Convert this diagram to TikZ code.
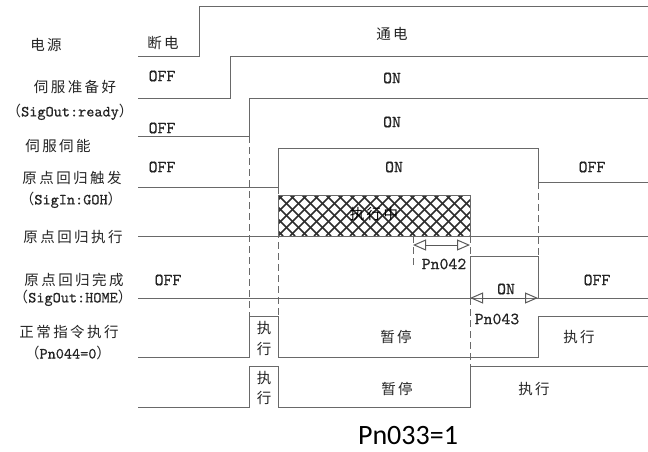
\documentclass[tikz,border=0pt]{standalone}
\usepackage{fontspec}
\newfontfamily\cjkfont[LetterSpace=17]{Noto Sans CJK SC}
\newfontfamily\calfont{Carlito}
\newfontfamily\ttx[FakeBold=0.5]{lmmono10-regular.otf}
\usetikzlibrary{arrows.meta}
\definecolor{ln}{RGB}{105,105,105}
\definecolor{tx}{RGB}{35,35,35}
\definecolor{hc}{RGB}{45,45,45}
\newcommand{\lpar}{{\cjkfont （}}
\newcommand{\rpar}{{\cjkfont ）}}
\newcommand{\asc}[1]{{\ttx\fontsize{15.5}{17}\selectfont #1}}
\begin{document}
\begin{tikzpicture}[x=1pt,y=-1pt,
  sig/.style={draw=ln, line width=1pt},
  dsh/.style={draw=ln, line width=0.9pt, dash pattern=on 7pt off 4pt},
  lab/.style={text=tx, font=\cjkfont\fontsize{14.5}{16}\selectfont, inner sep=0pt},
  lvl/.style={text=tx, font=\ttx\fontsize{17}{19}\selectfont, inner sep=0pt},
  hatchln/.style={draw=hc, line width=1.5pt},
  dimarrow/.style={draw=ln!85!black, line width=1pt,
    {Triangle[open,length=13pt,width=11pt]}-{Triangle[open,length=13pt,width=11pt]}},
]
\useasboundingbox (0,0) rectangle (648,452);

% ---------- hatched block ----------
\begin{scope}
  \clip (278,195) rectangle (470,236);
  \foreach \c in {230,242,...,470} {
    \draw[hatchln] (\c,195) -- ++(41,41);
    \draw[hatchln] (\c,236) -- ++(41,-41);
  }
\end{scope}
\draw[sig] (278,195) rectangle (470,236);
\node[lab, text=black] (hatchtxt) at (374,214) {执行中};

% ---------- signals ----------
\draw[sig] (138,57) -- (199,57) -- (199,7) -- (648,7);
\draw[sig] (138,98) -- (230,98) -- (230,57) -- (648,57);
\draw[sig] (138,136) -- (249,136) -- (249,98) -- (648,98);
\draw[sig] (138,187) -- (278,187) -- (278,148) -- (538,148) -- (538,182) -- (648,182);
\draw[sig] (138,236) -- (648,236);
\draw[sig] (138,298) -- (648,298);
\draw[sig] (470,298) -- (470,256) -- (538,256) -- (538,298);
\draw[sig] (138,357) -- (249,357) -- (249,316) -- (278,316) -- (278,357) -- (538,357) -- (538,316) -- (648,316);
\draw[sig] (138,407) -- (249,407) -- (249,366) -- (278,366) -- (278,407) -- (470,407) -- (470,366) -- (648,366);

% ---------- dashed guides ----------
\draw[dsh] (249,136) -- (249,316);
\draw[dsh] (278,187) -- (278,316);
\draw[dsh] (413,236) -- (413,268);
\draw[dsh] (470,236) -- (470,256);
\draw[dsh] (470,298) -- (470,366);
\draw[dsh] (538,182) -- (538,256);

% ---------- dimension arrows ----------
\coordinate (a1) at (413,245);
\coordinate (a2) at (470,245);
\draw[dimarrow] (a1) -- (a2);
\coordinate (b1) at (470,298);
\coordinate (b2) at (538,298);
\draw[dimarrow] (b1) -- (b2);
\node[lvl] (pn042) at (444,264) {Pn042};
\node[lvl] (on6) at (506,289) {ON};
\node[lvl] (pn043) at (497,319) {Pn043};

% ---------- left labels ----------
\node[lab] (l1) at (46,45) {电源};
\node[lab] (l2) at (75,87) {伺服准备好};
\node[lab] (l2b) at (70,112) {\lpar\asc{SigOut:ready}\rpar};
\node[lab] (l3) at (58,146) {伺服伺能};
\node[lab] (l4) at (72,178) {原点回归触发};
\node[lab] (l4b) at (71,200) {\lpar\asc{SigIn:GOH}\rpar};
\node[lab] (l5) at (73,237) {原点回归执行};
\node[lab] (l6) at (74,280) {原点回归完成};
\node[lab] (l6b) at (73,298) {\lpar\asc{SigOut:HOME}\rpar};
\node[lab] (l7) at (69,332) {正常指令执行};
\node[lab] (l7b) at (68,353) {\lpar\asc{Pn044=0}\rpar};

% ---------- level labels ----------
\node[lab] (s1a) at (163,43) {断电};
\node[lab] (s1b) at (392,34) {通电};
\node[lvl] (s2a) at (162,76) {OFF};
\node[lvl] (s2b) at (392,78) {ON};
\node[lvl] (s3a) at (162,128) {OFF};
\node[lvl] (s3b) at (392,122) {ON};
\node[lvl] (s4a) at (162,167) {OFF};
\node[lvl] (s4b) at (394,167) {ON};
\node[lvl] (s4c) at (592,167) {OFF};
\node[lvl] (s6a) at (168,280) {OFF};
\node[lvl] (s6b) at (597,280) {OFF};
\node[lab] (s7x1) at (264,328) {执};
\node[lab] (s7x2) at (264,349) {行};
\node[lab] (s7a) at (396,337) {暂停};
\node[lab] (s7b) at (579,337) {执行};
\node[lab] (s8x1) at (264,378) {执};
\node[lab] (s8x2) at (264,398) {行};
\node[lab] (s8a) at (397,389) {暂停};
\node[lab] (s8b) at (534,389) {执行};

\node[text=black, font=\calfont\fontsize{28}{30}\selectfont, inner sep=0pt] (title) at (408,436) {Pn033=1};
\end{tikzpicture}
\end{document}
